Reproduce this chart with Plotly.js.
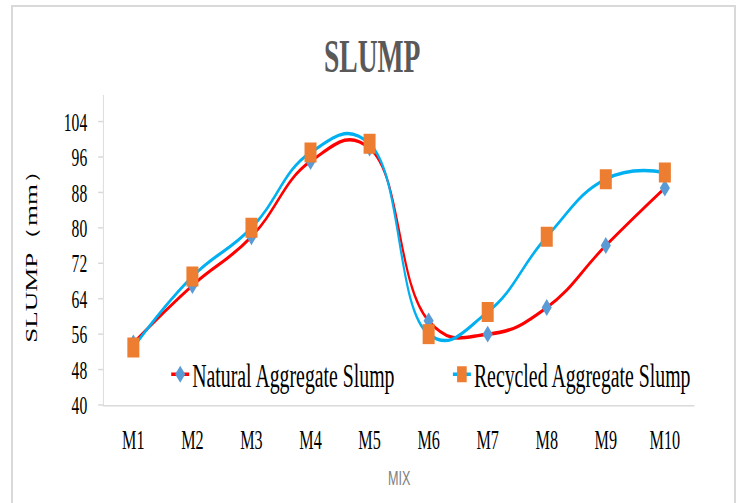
<!DOCTYPE html>
<html><head><meta charset="utf-8">
<script src="https://cdn.plot.ly/plotly-3.0.1.min.js"></script>
<style>
html,body{margin:0;padding:0;background:#fff;overflow:hidden;}
#wrap{position:relative;width:737px;height:503px;overflow:hidden;background:#fff;}
#chart{position:absolute;left:0;top:0;width:1228px;height:503px;transform:scaleX(0.60016);transform-origin:0 0;}
#frame{position:absolute;left:11px;top:5px;width:725px;height:520px;border:2px solid #d9d9d9;box-sizing:border-box;pointer-events:none;}
</style></head>
<body>
<div id="wrap"><div id="chart"></div><div id="frame"></div></div>
<script>
const mixes = ['M1','M2','M3','M4','M5','M6','M7','M8','M9','M10'];
const naturalSlump = [54, 67, 78, 95, 98, 59, 56, 62, 76, 89];
const recycledSlump = [53, 69, 80, 97, 99, 56, 61, 78, 91, 92.5];
const yTicks = [40, 48, 56, 64, 72, 80, 88, 96, 104];

const serif = 'Liberation Serif, Times New Roman, serif';

const traces = [
  {
    x: mixes, y: naturalSlump, name: 'Natural Aggregate Slump',
    type: 'scatter', mode: 'lines+markers',
    line: {color: '#FF0000', width: 3.5, shape: 'spline', smoothing: 1.3},
    marker: {symbol: 'diamond', size: 13, color: '#5B9BD5'},
    legend: 'legend'
  },
  {
    x: mixes, y: recycledSlump, name: 'Recycled Aggregate Slump',
    type: 'scatter', mode: 'lines+markers',
    line: {color: '#00B0F0', width: 3.5, shape: 'spline', smoothing: 1.3},
    marker: {symbol: 'square', size: 20, color: '#ED7D31'},
    legend: 'legend2'
  }
];

const layout = {
  width: 1228, height: 503,
  margin: {l: 173.3, r: 71.4, t: 95, b: 98},
  paper_bgcolor: 'rgba(0,0,0,0)', plot_bgcolor: 'rgba(0,0,0,0)',
  title: {
    text: 'SLUMP', font: {family: serif, size: 46, color: '#595959', weight: 'bold'},
    x: 0.505, xref: 'container', xanchor: 'center',
    y: 0.888, yref: 'container', yanchor: 'middle'
  },
  xaxis: {
    type: 'category', range: [-0.5, 9.5], autorange: false,
    showgrid: false, zeroline: false,
    showline: true, linecolor: '#d9d9d9', linewidth: 1.5,
    ticks: '', tickfont: {family: serif, size: 27, color: '#000'},
    ticklabelstandoff: 10,
    title: {text: 'MIX', font: {family: 'Liberation Sans, Arial, sans-serif', size: 21, color: '#7f7f7f'}, standoff: 16}
  },
  yaxis: {
    range: [40, 110], autorange: false, tickmode: 'array', tickvals: yTicks, ticktext: yTicks.map(String),
    showgrid: false, zeroline: false,
    showline: true, linecolor: '#d9d9d9', linewidth: 1.5,
    ticks: 'outside', ticklen: 8, tickcolor: '#d9d9d9', tickwidth: 1.5,
    tickfont: {family: serif, size: 26, color: '#000'},
    ticklabelstandoff: 13,
    title: {text: 'SLUMP（mm）', font: {family: serif, size: 27, color: '#000'}, standoff: 36}
  },
  showlegend: true,
  legend: {
    x: 0.109, xanchor: 'left', y: 0.099, yanchor: 'middle',
    bgcolor: 'rgba(0,0,0,0)', font: {family: serif, size: 33, color: '#000'}
  },
  legend2: {
    x: 0.586, xanchor: 'left', y: 0.099, yanchor: 'middle',
    bgcolor: 'rgba(0,0,0,0)', font: {family: serif, size: 33, color: '#000'}
  }
};

Plotly.newPlot('chart', traces, layout, {displayModeBar: false, staticPlot: true});
</script>
</body></html>
